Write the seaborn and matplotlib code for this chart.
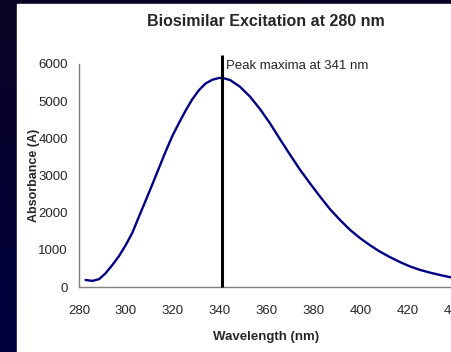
import numpy as np
import pandas as pd
import matplotlib
matplotlib.use("Agg")
import matplotlib.pyplot as plt
import seaborn as sns

# Emission spectrum
wavelength = [282.8, 285.7, 288.5, 291.3, 294.2, 297.0, 299.9, 302.7, 305.5, 308.4,
              311.2, 314.0, 316.9, 319.7, 322.6, 325.4, 328.2, 331.1, 333.9, 336.7,
              339.6, 341.4, 344.3, 348.5, 352.8, 357.0, 361.3, 365.5, 369.8, 374.0,
              378.3, 382.6, 386.8, 391.1, 395.3, 399.6, 403.8, 408.1, 412.3, 416.6,
              420.9, 425.1, 429.4, 433.6, 437.9, 445.0]
absorbance = [188, 165, 210, 368, 592, 830, 1130, 1460, 1892, 2330,
              2760, 3200, 3650, 4060, 4420, 4750, 5049, 5300, 5478, 5575,
              5625, 5620, 5568, 5389, 5120, 4790, 4402, 3980, 3560, 3160,
              2788, 2430, 2095, 1802, 1540, 1315, 1125, 950, 805, 670,
              552, 460, 386, 323, 265, 200]
peak_nm = 341
peak_label = "Peak maxima at 341 nm"
x_ticks = [280, 300, 320, 340, 360, 380, 400, 420, 440]
y_ticks = [0, 1000, 2000, 3000, 4000, 5000, 6000]

df = pd.DataFrame({"Wavelength": wavelength, "Absorbance": absorbance})

sns.set_style("white")
plt.rcParams["font.family"] = ["Liberation Sans", "DejaVu Sans"]

fig = plt.figure(figsize=(4.52, 3.52), dpi=100)

# dark navy slide background with a slight vertical gradient
bg = fig.add_axes([0, 0, 1, 1], zorder=-2)
grad = np.linspace(0, 1, 256).reshape(-1, 1)
cmap = matplotlib.colors.LinearSegmentedColormap.from_list("bg", ["#0a0424", "#00003f"])
bg.imshow(grad, aspect="auto", cmap=cmap, extent=[0, 1, 0, 1])
bg.add_patch(plt.Rectangle((17 / 452, 0), 1, 1 - 4 / 352, color="white"))
bg.set_xlim(0, 1)
bg.set_ylim(0, 1)
bg.axis("off")

axw = 180 * 2.35
ax = fig.add_axes([79 / 452, 65 / 352, axw / 452, 223 / 352])
ax.patch.set_alpha(0)
sns.lineplot(data=df, x="Wavelength", y="Absorbance", ax=ax, color="#000080", linewidth=1.7)
ax.vlines(peak_nm, 0, 6250, color="black", linewidth=2.2, clip_on=False, zorder=3)
ax.text(peak_nm + 1.5, 5940, peak_label, fontsize=9.5, va="center", ha="left")

ax.set_xlim(280, 460)
ax.set_ylim(0, 6000)
ax.set_xticks(x_ticks)
ax.set_yticks(y_ticks)
ax.set_xticklabels([str(t) for t in x_ticks], fontsize=9.5)
ax.set_yticklabels([str(t) for t in y_ticks], fontsize=9.5)
ax.tick_params(axis="x", direction="out", length=4, width=1, color="#404040", pad=9)
ax.tick_params(axis="y", direction="out", length=3, width=1, color="#404040", pad=5)

for s in ["top", "right"]:
    ax.spines[s].set_visible(False)
for s in ["left", "bottom"]:
    ax.spines[s].set_color("#808080")
    ax.spines[s].set_linewidth(1)

ax.set_xlabel("Wavelength (nm)", fontweight="bold", fontsize=9.5)
ax.set_ylabel("Absorbance (A)", fontweight="bold", fontsize=9)
ax.yaxis.set_label_coords(-39 / axw, 0.5)
ax.xaxis.set_label_coords((266 - 79) / axw, -44 / 223)

fig.text(266 / 452, 1 - 22 / 352, "Biosimilar Excitation at 280 nm",
         ha="center", va="center", fontsize=11.5, fontweight="bold")

fig.savefig("out.png", dpi=100)
